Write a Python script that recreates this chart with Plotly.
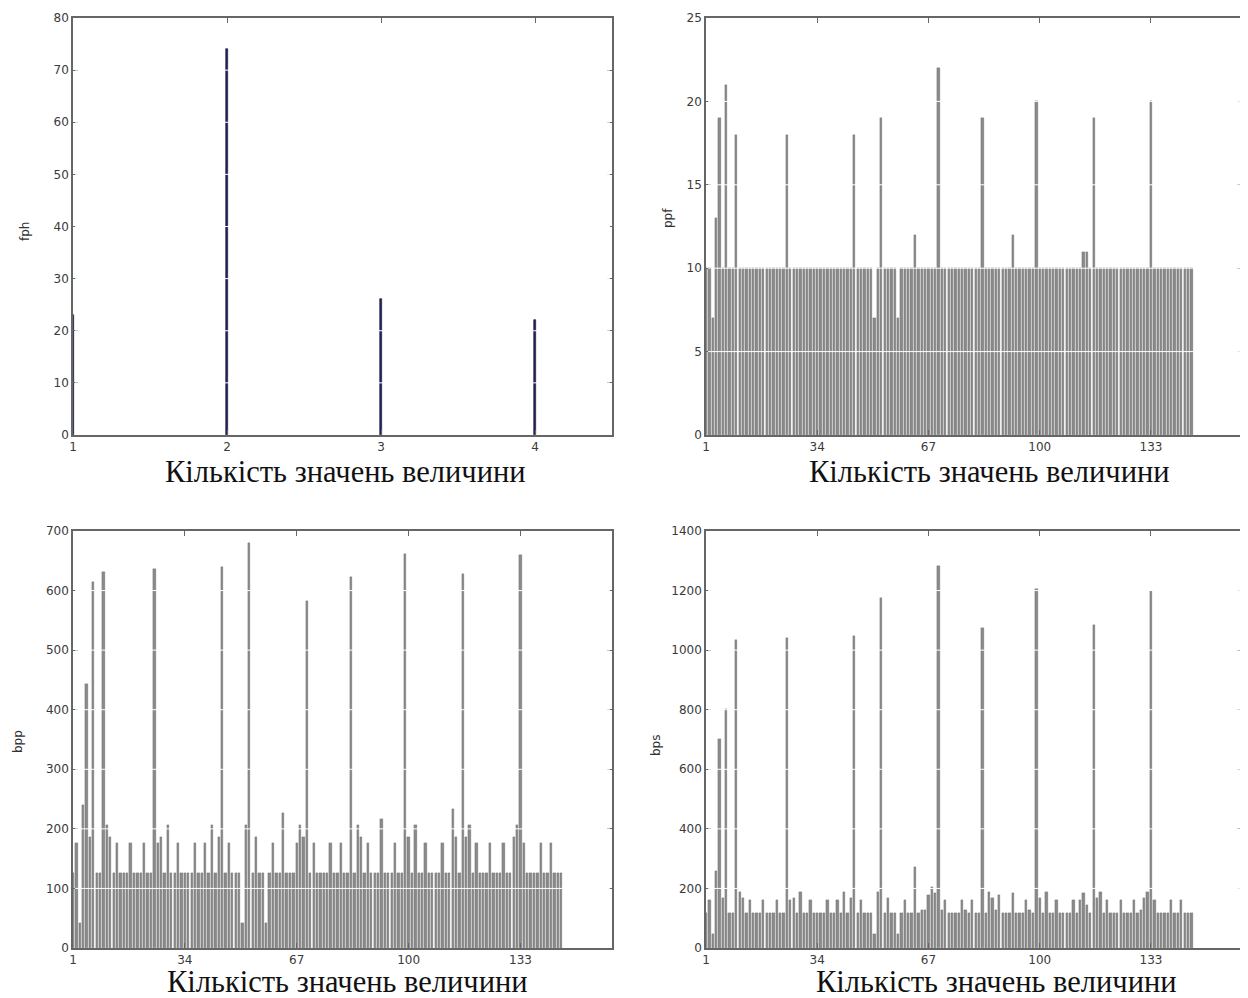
import plotly.graph_objects as go

# ---------------- data ----------------
fph_x = [1, 2, 3, 4]
fph = [23, 74, 26, 22]

ppf = [10, 10, 7, 13, 19, 10, 21, 10, 10, 18,
       10, 10, 10, 10, 10, 10, 10, 10, 10, 10,
       10, 10, 10, 10, 18, 10, 10, 10, 10, 10,
       10, 10, 10, 10, 10, 10, 10, 10, 10, 10,
       10, 10, 10, 10, 18, 10, 10, 10, 10, 10,
       7, 10, 19, 10, 10, 10, 10, 7, 10, 10,
       10, 10, 12, 10, 10, 10, 10, 10, 10, 22,
       10, 10, 10, 10, 10, 10, 10, 10, 10, 10,
       10, 10, 19, 10, 10, 10, 10, 10, 10, 10,
       10, 12, 10, 10, 10, 10, 10, 10, 20, 10,
       10, 10, 10, 10, 10, 10, 10, 10, 10, 10,
       10, 10, 11, 11, 10, 19, 10, 10, 10, 10,
       10, 10, 10, 10, 10, 10, 10, 10, 10, 10,
       10, 10, 20, 10, 10, 10, 10, 10, 10, 10,
       10, 10, 10, 10, 10]

bpp = [126, 177, 42, 240, 444, 187, 614, 126, 126, 632,
       207, 187, 126, 177, 126, 126, 126, 177, 126, 126,
       126, 177, 126, 126, 636, 177, 187, 126, 207, 126,
       126, 177, 126, 126, 126, 126, 177, 126, 126, 177,
       126, 207, 126, 187, 639, 126, 177, 126, 126, 126,
       42, 207, 680, 126, 187, 126, 126, 42, 126, 177,
       126, 126, 226, 126, 126, 126, 177, 207, 187, 583,
       126, 177, 126, 126, 126, 126, 177, 126, 126, 177,
       126, 126, 622, 126, 207, 187, 126, 177, 126, 126,
       126, 217, 126, 126, 126, 177, 126, 126, 662, 187,
       126, 207, 126, 126, 177, 126, 126, 126, 126, 177,
       126, 126, 234, 187, 126, 628, 187, 207, 126, 177,
       126, 126, 126, 177, 126, 126, 126, 177, 126, 126,
       187, 207, 659, 177, 126, 126, 126, 126, 177, 126,
       126, 177, 126, 126, 126]

bps = [116, 161, 48, 258, 703, 169, 804, 116, 116, 1035,
       189, 169, 116, 161, 116, 116, 116, 161, 116, 116,
       116, 161, 116, 116, 1040, 161, 169, 116, 189, 116,
       116, 161, 116, 116, 116, 116, 161, 116, 116, 161,
       116, 189, 116, 169, 1046, 116, 161, 116, 116, 116,
       48, 189, 1174, 116, 169, 116, 116, 48, 116, 161,
       116, 116, 271, 116, 129, 129, 178, 206, 185, 1284,
       129, 161, 116, 116, 116, 116, 161, 129, 116, 161,
       116, 116, 1076, 116, 189, 169, 129, 178, 116, 116,
       116, 185, 116, 116, 116, 161, 129, 116, 1205, 169,
       116, 189, 116, 116, 161, 116, 116, 116, 116, 161,
       116, 161, 185, 144, 116, 1084, 169, 189, 116, 161,
       116, 116, 116, 161, 116, 116, 116, 161, 116, 129,
       169, 189, 1200, 161, 116, 116, 116, 116, 161, 116,
       116, 161, 116, 116, 116]

idx = list(range(1, len(ppf) + 1))

x_ticks_big = [1, 34, 67, 100, 133]
fph_yticks = [0, 10, 20, 30, 40, 50, 60, 70, 80]
ppf_yticks = [0, 5, 10, 15, 20, 25]
bpp_yticks = [0, 100, 200, 300, 400, 500, 600, 700]
bps_yticks = [0, 200, 400, 600, 800, 1000, 1200, 1400]

x_title = "Кількість значень величини"

# ---------------- figure ----------------
W, H = 1248, 998
OFF = 8  # page body margin offset

fig = go.Figure()

def px_x(p):
    return (p - OFF) / W

def px_y(p):
    return 1 - (p - OFF) / H

dom_left = [px_x(73), px_x(612)]
dom_right = [px_x(706), px_x(1242)]
dom_top = [px_y(435), px_y(18)]
dom_bot = [px_y(948), px_y(531)]

gray_fill = "#8a8a8a"
gray_edge = "#626262"
bw = 0.68

fig.add_trace(go.Bar(x=fph_x, y=fph, width=0.014, marker=dict(color="#22225a", line=dict(color="#15153a", width=0.6)),
                     xaxis="x", yaxis="y", showlegend=False))
for vals, n in [(ppf, 2), (bpp, 3), (bps, 4)]:
    fig.add_trace(go.Bar(x=idx, y=vals, width=bw,
                         marker=dict(color=gray_fill, line=dict(color=gray_edge, width=0.3)),
                         xaxis=f"x{n}", yaxis=f"y{n}", showlegend=False))

tickfont = dict(family="DejaVu Sans", size=12, color="#3a3a3a")
axis_common = dict(showline=True, linecolor="#666666", linewidth=1.5, mirror="allticks",
                   ticks="inside", ticklen=5, tickcolor="#666666", tickfont=tickfont,
                   showgrid=False, zeroline=False, automargin=False)

fig.update_layout(
    width=W, height=H,
    margin=dict(l=0, r=0, t=0, b=0, autoexpand=False),
    paper_bgcolor="white", plot_bgcolor="white",
    bargap=0,
    xaxis=dict(domain=dom_left, anchor="y", range=[1, 4.5], tickvals=[1, 2, 3, 4], **axis_common),
    yaxis=dict(domain=dom_top, anchor="x", range=[0, 80], tickvals=fph_yticks, **axis_common),
    xaxis2=dict(domain=dom_right, anchor="y2", range=[1, 160], tickvals=x_ticks_big, **axis_common),
    yaxis2=dict(domain=dom_top, anchor="x2", range=[0, 25], tickvals=ppf_yticks, **axis_common),
    xaxis3=dict(domain=dom_left, anchor="y3", range=[1, 160], tickvals=x_ticks_big, **axis_common),
    yaxis3=dict(domain=dom_bot, anchor="x3", range=[0, 700], tickvals=bpp_yticks, **axis_common),
    xaxis4=dict(domain=dom_right, anchor="y4", range=[1, 160], tickvals=x_ticks_big, **axis_common),
    yaxis4=dict(domain=dom_bot, anchor="x4", range=[0, 1400], tickvals=bps_yticks, **axis_common),
)

# white grid lines drawn above the bars (as in the reference)
shapes = []
for xa, ya, ticks in [("x", "y", fph_yticks), ("x2", "y2", ppf_yticks),
                      ("x3", "y3", bpp_yticks), ("x4", "y4", bps_yticks)]:
    for t in ticks[1:-1]:
        shapes.append(dict(type="line", xref=f"{xa} domain", yref=ya, x0=0.004, x1=0.996, y0=t, y1=t,
                           line=dict(color="white", width=1), layer="above"))
fig.update_layout(shapes=shapes)

# axis titles
ann = []
for label, xp, yp in [("fph", 25, 232), ("ppf", 668, 218), ("bpp", 18, 742), ("bps", 656, 745)]:
    ann.append(dict(text=label, x=px_x(xp), y=px_y(yp), xref="paper", yref="paper", showarrow=False,
                    textangle=-90, font=dict(family="DejaVu Sans", size=12, color="#333333"),
                    xanchor="center", yanchor="middle"))
for xp, yp in [(345, 472), (989, 472), (347, 982), (996, 982)]:
    ann.append(dict(text=x_title, x=px_x(xp), y=px_y(yp), xref="paper", yref="paper", showarrow=False,
                    font=dict(family="Liberation Serif", size=30.5, color="#111111"),
                    xanchor="center", yanchor="middle"))
fig.update_layout(annotations=ann)

fig.write_html("out.html")
